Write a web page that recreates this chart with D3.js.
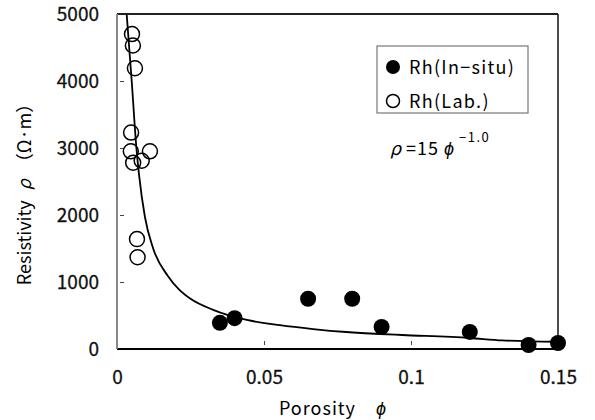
<!DOCTYPE html>
<html>
<head>
<meta charset="utf-8">
<script src="https://cdn.jsdelivr.net/npm/d3@7"></script>
<style>
  body { margin: 0; background: #fff; }
  text { font-family: "Noto Sans CJK JP", "Liberation Sans", sans-serif; }
</style>
</head>
<body>
<script>
// porosity / resistivity
const insituPhi = [0.035, 0.040, 0.065, 0.080, 0.090, 0.120, 0.140, 0.150]
const insituRho = [390, 460, 750, 750, 330, 255, 60, 90]

const labPhi = [0.0051, 0.0054, 0.0061, 0.0048, 0.0047, 0.0055, 0.0084, 0.0112, 0.0068, 0.0070]
const labRho = [4700, 4530, 4190, 3230, 2950, 2780, 2810, 2950, 1640, 1370]

// fitted curve rho = 15 phi^-1.0
const fitPhi = [0.0033, 0.0050, 0.0066, 0.0075, 0.0095, 0.0123, 0.0173, 0.0214, 0.0250, 0.0327, 0.0442, 0.0554, 0.0667, 0.0780, 0.0895, 0.0970, 0.1200, 0.1310, 0.1500]
const fitRho = [4990, 4000, 3000, 2600, 1970, 1500, 1090, 875, 750, 585, 433, 355, 298, 254, 224, 209, 164, 128, 108]

const xTicks = [0, 0.05, 0.1, 0.15]
const xTickLabels = ['0', '0.05', '0.1', '0.15']
const yTicks = [0, 1000, 2000, 3000, 4000, 5000]

let dim = {width: 595, height: 420}
let svg = d3.select('body').append('svg').attr('width', dim.width).attr('height', dim.height)
let margin = {top: 14, left: 117, right: 37, bottom: 71}
const graphWidth = dim.width - margin.left - margin.right
const graphHeight = dim.height - margin.top - margin.bottom

const x = d3.scaleLinear([0, 0.15], [0, graphWidth])
const y = d3.scaleLinear([0, 5000], [graphHeight, 0])

const graph = svg.append('g').attr('transform', `translate(${margin.left},${margin.top})`)

/* AXES */
const yAxis = graph.append('g').call(d3.axisLeft(y).tickValues(yTicks).tickFormat(d3.format('d')).tickSize(-4).tickPadding(18))
yAxis.select('.domain').remove()
yAxis.selectAll('line').attr('stroke', '#444').attr('transform', 'translate(3,0)')
yAxis.selectAll('line').filter(d => d === 0 || d === 5000).remove()
yAxis.selectAll('text').attr('font-family', '"Liberation Sans", sans-serif')
  .attr('font-size', 19).attr('fill', '#111').attr('stroke', '#111').attr('stroke-width', 0.3)

const xAxis = graph.append('g').attr('transform', `translate(0,${graphHeight})`)
  .call(d3.axisBottom(x).tickValues(xTicks).tickFormat((d, i) => xTickLabels[i]).tickSize(-4).tickPadding(22))
xAxis.select('.domain').remove()
xAxis.selectAll('line').attr('stroke', '#444').attr('transform', 'translate(0,-4)')
xAxis.selectAll('line').filter(d => d === 0 || d === 0.15).remove()
xAxis.selectAll('text').attr('font-family', '"Liberation Sans", sans-serif')
  .attr('font-size', 19).attr('fill', '#111').attr('stroke', '#111').attr('stroke-width', 0.3)

// frame
graph.append('line').attr('x1', 0).attr('x2', graphWidth).attr('y1', 0).attr('y2', 0)
  .attr('stroke', '#222').attr('stroke-width', 2)
graph.append('line').attr('x1', 0).attr('x2', graphWidth).attr('y1', graphHeight).attr('y2', graphHeight)
  .attr('stroke', '#000').attr('stroke-width', 2)
graph.append('line').attr('x1', 0).attr('x2', 0).attr('y1', 0).attr('y2', graphHeight)
  .attr('stroke', '#888').attr('stroke-width', 2)
graph.append('line').attr('x1', graphWidth).attr('x2', graphWidth).attr('y1', 0).attr('y2', graphHeight)
  .attr('stroke', '#111').attr('stroke-width', 1.5)

/* CURVE */
const fit = fitPhi.map((p, i) => [p, fitRho[i]])
graph.append('path').datum(fit)
  .attr('d', d3.line().x(d => x(d[0])).y(d => y(d[1])).curve(d3.curveMonotoneX))
  .attr('fill', 'none').attr('stroke', '#000').attr('stroke-width', 1.8)

/* POINTS */
graph.selectAll('circle.lab').data(labPhi.map((p, i) => [p, labRho[i]])).enter().append('circle')
  .attr('class', 'lab')
  .attr('cx', d => x(d[0])).attr('cy', d => y(d[1])).attr('r', 7.5)
  .attr('fill', 'none').attr('stroke', '#000').attr('stroke-width', 1.5)

graph.selectAll('circle.insitu').data(insituPhi.map((p, i) => [p, insituRho[i]])).enter().append('circle')
  .attr('class', 'insitu')
  .attr('cx', d => x(d[0])).attr('cy', d => y(d[1])).attr('r', 8)
  .attr('fill', '#000')

/* LEGEND */
const legend = svg.append('g').attr('transform', 'translate(377,46)')
legend.append('rect').attr('width', 151).attr('height', 67)
  .attr('fill', '#fff').attr('stroke', '#777').attr('stroke-width', 1.2)
legend.append('circle').attr('cx', 16).attr('cy', 21).attr('r', 7).attr('fill', '#000')
legend.append('circle').attr('cx', 16).attr('cy', 55).attr('r', 6.5)
  .attr('fill', 'none').attr('stroke', '#000').attr('stroke-width', 1.5)
legend.append('text').attr('x', 32).attr('y', 28).attr('font-size', 18).attr('letter-spacing', 1.3).text('Rh(In−situ)')
legend.append('text').attr('x', 32).attr('y', 62).attr('font-size', 18).attr('letter-spacing', 1.3).text('Rh(Lab.)')

/* EQUATION */
const eq = svg.append('text').attr('x', 390).attr('y', 155).attr('font-size', 18)
eq.append('tspan').attr('font-style', 'italic').text('ρ')
eq.append('tspan').attr('dx', 5).attr('letter-spacing', 1).text('=15')
eq.append('tspan').attr('dx', 5).attr('font-style', 'italic').text('ϕ')
eq.append('tspan').attr('dx', 5).attr('dy', -13).attr('font-size', 13).attr('letter-spacing', 1.5).text('−1.0')

/* TITLES */
const xt = svg.append('text').attr('x', 333).attr('y', 415).attr('text-anchor', 'middle')
  .attr('font-size', 18).attr('letter-spacing', 1)
xt.append('tspan').text('Porosity')
xt.append('tspan').attr('dx', 20).attr('font-style', 'italic').text('ϕ')

const yt = svg.append('text').attr('transform', 'translate(31,190) rotate(-90)')
  .attr('text-anchor', 'middle').attr('font-size', 18)
yt.append('tspan').text('Resistivity')
yt.append('tspan').attr('dx', 10).attr('font-style', 'italic').text('ρ')
yt.append('tspan').attr('dx', 8).text('（Ω·m）')
</script>
</body>
</html>
